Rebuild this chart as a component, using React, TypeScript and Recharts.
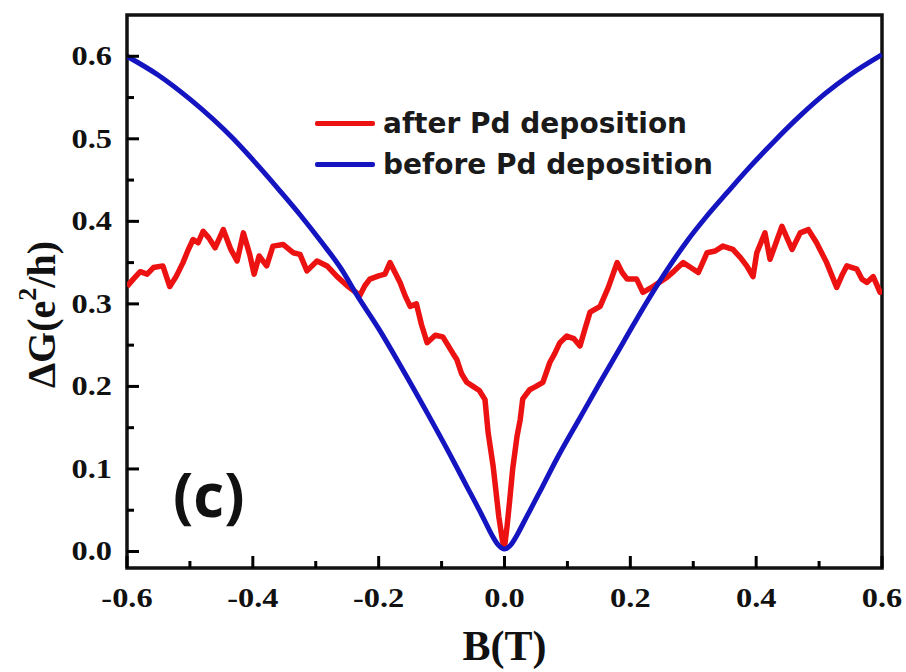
import React from "react";
import { LineChart, Line, XAxis, YAxis, ReferenceArea, Label } from "recharts";

// ---- data ----
const afterB = [
  -0.6, -0.59, -0.579, -0.568, -0.558, -0.543, -0.532, -0.522, -0.511, -0.503, -0.495, -0.487, -0.479, -0.47,
  -0.46, -0.447, -0.435, -0.425, -0.415, -0.405, -0.398, -0.39, -0.378, -0.368, -0.352, -0.336, -0.325, -0.314,
  -0.298, -0.282, -0.266, -0.25, -0.238, -0.23, -0.222, -0.214, -0.2, -0.19, -0.182, -0.174, -0.166, -0.158,
  -0.15, -0.14, -0.132, -0.123, -0.11, -0.098, -0.09, -0.082, -0.076, -0.068, -0.06, -0.05, -0.04, -0.031,
  -0.026, -0.018, -0.009, -0.003, 0, 0.004, 0.008, 0.013, 0.02, 0.025, 0.029, 0.04, 0.05, 0.061, 0.072, 0.08,
  0.088, 0.099, 0.11, 0.12, 0.128, 0.136, 0.152, 0.165, 0.179, 0.187, 0.195, 0.21, 0.22, 0.236, 0.246, 0.258,
  0.27, 0.284, 0.296, 0.308, 0.322, 0.335, 0.347, 0.363, 0.375, 0.385, 0.395, 0.401, 0.414, 0.422, 0.432,
  0.441, 0.449, 0.457, 0.47, 0.483, 0.496, 0.512, 0.528, 0.536, 0.544, 0.56, 0.568, 0.576, 0.586, 0.597, 0.6,
];
const afterG = [
  0.321, 0.33, 0.339, 0.336, 0.344, 0.346, 0.321, 0.333, 0.35, 0.365, 0.378, 0.374, 0.388, 0.38,
  0.368, 0.39, 0.366, 0.352, 0.386, 0.36, 0.336, 0.358, 0.346, 0.37, 0.372, 0.362, 0.36, 0.34,
  0.352, 0.346, 0.333, 0.322, 0.315, 0.31, 0.322, 0.33, 0.334, 0.336, 0.35, 0.338, 0.326, 0.31,
  0.297, 0.3, 0.275, 0.253, 0.262, 0.26, 0.25, 0.24, 0.233, 0.215, 0.205, 0.2, 0.195, 0.184,
  0.144, 0.103, 0.042, 0.012, 0.005, 0.03, 0.06, 0.1, 0.14, 0.16, 0.185, 0.196, 0.2, 0.205, 0.229, 0.24,
  0.253, 0.261, 0.258, 0.249, 0.27, 0.29, 0.297, 0.32, 0.35, 0.338, 0.33, 0.33, 0.314, 0.321, 0.326, 0.332,
  0.34, 0.35, 0.344, 0.338, 0.362, 0.364, 0.37, 0.366, 0.356, 0.346, 0.333, 0.362, 0.386, 0.354, 0.375,
  0.394, 0.38, 0.366, 0.386, 0.39, 0.374, 0.35, 0.32, 0.334, 0.346, 0.342, 0.33, 0.326, 0.333, 0.314, 0.318,
];
const beforeB = [
  -0.6, -0.55, -0.5, -0.431, -0.39, -0.357, -0.325, -0.29, -0.26, -0.234, -0.2, -0.166, -0.12, -0.087, -0.06,
  -0.04, -0.03, -0.02, -0.01, 0, 0.01, 0.02, 0.029, 0.04, 0.06, 0.083, 0.12, 0.152, 0.19, 0.226, 0.26, 0.29,
  0.32, 0.354, 0.39, 0.43, 0.47, 0.51, 0.55, 0.6,
];
const beforeG = [
  0.6, 0.577, 0.548, 0.5, 0.466, 0.437, 0.408, 0.374, 0.343, 0.31, 0.27, 0.226, 0.164, 0.118, 0.079,
  0.05, 0.035, 0.02, 0.008, 0.003, 0.008, 0.02, 0.033, 0.049, 0.078, 0.112, 0.162, 0.205, 0.255, 0.302, 0.343, 0.376,
  0.405, 0.435, 0.466, 0.498, 0.528, 0.555, 0.578, 0.602,
];
const xTicks = [-0.6, -0.5, -0.4, -0.3, -0.2, -0.1, 0, 0.1, 0.2, 0.3, 0.4, 0.5, 0.6];
const yTicks = [0, 0.05, 0.1, 0.15, 0.2, 0.25, 0.3, 0.35, 0.4, 0.45, 0.5, 0.55, 0.6];
const series = [
  { name: "after Pd deposition", color: "#ec1212", b: afterB, g: afterG, curve: "linear", width: 5.5 },
  { name: "before Pd deposition", color: "#1414c0", b: beforeB, g: beforeG, curve: "monotone", width: 5 },
];

const X_DOMAIN: [number, number] = [-0.6, 0.6];
const Y_DOMAIN: [number, number] = [-0.02, 0.65];

const serif = "'Liberation Serif', 'Times New Roman', serif";

const XTick = (props: any) => {
  const { x, y, payload } = props;
  const v = payload.value as number;
  const major = Math.abs(Math.round(v * 10)) % 2 === 0;
  return (
    <g>
      <line x1={x} x2={x} y1={y} y2={y - (major ? 12 : 7)} stroke="#000" strokeWidth={3} />
      {major && (
        <text
          transform={`translate(${x},${y + 39}) scale(1.2,1)`}
          textAnchor="middle"
          fontFamily={serif}
          fontWeight="bold"
          fontSize={27}
          fill="#111"
        >
          {v.toFixed(1)}
        </text>
      )}
    </g>
  );
};

const YTick = (props: any) => {
  const { x, y, payload } = props;
  const v = payload.value as number;
  const major = Math.round(v * 100) % 10 === 0;
  return (
    <g>
      <line x1={x} x2={x + (major ? 12 : 7)} y1={y} y2={y} stroke="#000" strokeWidth={3} />
      {major && (
        <text
          transform={`translate(${x - 15},${y + 9}) scale(1.2,1)`}
          textAnchor="end"
          fontFamily={serif}
          fontWeight="bold"
          fontSize={27}
          fill="#111"
        >
          {v.toFixed(1)}
        </text>
      )}
    </g>
  );
};

const YLabel = (props: any) => {
  const vb = props.viewBox || { x: 0, y: 0, width: 0, height: 0 };
  const cx = vb.x + 41;
  const cy = vb.y + vb.height / 2 + 23;
  return (
    <text
      transform={`translate(${cx},${cy}) rotate(-90)`}
      textAnchor="middle"
      dominantBaseline="central"
      fontFamily={serif}
      fontWeight="bold"
      fontSize={40}
      fill="#111"
    >
      ΔG(e
      <tspan fontSize={26} dy={-14}>2</tspan>
      <tspan dy={14}>/h)</tspan>
    </text>
  );
};

const XLabel = (props: any) => {
  const vb = props.viewBox || { x: 0, y: 0, width: 0, height: 0 };
  return (
    <text
      x={vb.x + vb.width / 2}
      y={vb.y + 92}
      textAnchor="middle"
      fontFamily={serif}
      fontWeight="bold"
      fontSize={42}
      fill="#111"
    >
      B(T)
    </text>
  );
};

export default function App() {
  const lineData = series.map((s) => s.b.map((b, i) => ({ x: b, y: s.g[i] })));
  return (
    <div style={{ position: "absolute", left: 0, top: 0, width: 906, height: 672, background: "#fff" }}>
      <LineChart width={906} height={672} margin={{ top: 15, right: 24, bottom: 0, left: 0 }}>
        <XAxis
          dataKey="x"
          type="number"
          domain={X_DOMAIN}
          ticks={xTicks}
          allowDataOverflow
          axisLine={false}
          tickLine={false}
          tickSize={0}
          tickMargin={0}
          height={104}
          tick={<XTick />}
          interval={0}
        >
          <Label content={<XLabel />} />
        </XAxis>
        <YAxis
          type="number"
          domain={Y_DOMAIN}
          ticks={yTicks}
          allowDataOverflow
          axisLine={false}
          tickLine={false}
          tickSize={0}
          tickMargin={0}
          width={127}
          tick={<YTick />}
          interval={0}
        >
          <Label content={<YLabel />} />
        </YAxis>
        {series.map((s, i) => (
          <Line
            key={s.name}
            data={lineData[i]}
            dataKey="y"
            name={s.name}
            stroke={s.color}
            strokeWidth={s.width}
            dot={false}
            type={s.curve as any}
            strokeLinejoin="round"
            isAnimationActive={false}
          />
        ))}
        <ReferenceArea
          x1={X_DOMAIN[0]}
          x2={X_DOMAIN[1]}
          y1={Y_DOMAIN[0]}
          y2={Y_DOMAIN[1]}
          fill="none"
          fillOpacity={0}
          stroke="#111"
          strokeWidth={3.5}
          ifOverflow="extendDomain"
        />
      </LineChart>
      <div style={{ position: "absolute", left: 315, top: 103 }}>
        {series.map((s) => (
          <div key={s.name} style={{ display: "flex", alignItems: "center", height: 41 }}>
            <div style={{ width: 60, height: 5, background: s.color, borderRadius: 2 }} />
            <span
              style={{
                marginLeft: 8,
                fontFamily: "'DejaVu Sans', sans-serif",
                fontWeight: "bold",
                fontSize: 28,
                color: "#1a1a1a",
                lineHeight: "41px",
              }}
            >
              {s.name}
            </span>
          </div>
        ))}
      </div>
      <div
        style={{
          position: "absolute",
          left: 173,
          top: 446,
          fontFamily: "'Open Sans', sans-serif",
          fontWeight: "bold",
          fontSize: 60,
          lineHeight: "96px",
          color: "#111",
        }}
      >
        (c)
      </div>
    </div>
  );
}
